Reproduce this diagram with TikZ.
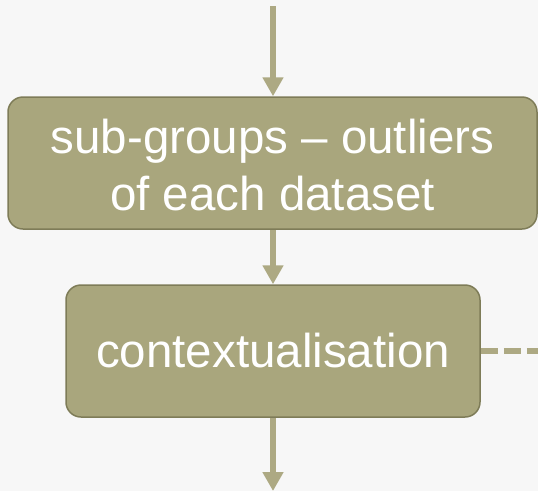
\documentclass[tikz,border=0pt]{standalone}
\usepackage{fontspec}
\setmainfont{Liberation Sans}
\usetikzlibrary{arrows.meta}
\definecolor{bg}{HTML}{F7F7F7}
\definecolor{boxfill}{HTML}{A9A67D}
\definecolor{boxedge}{HTML}{7E7C58}
\definecolor{flow}{HTML}{ADA983}
\begin{document}
\begin{tikzpicture}[x=1pt,y=-1pt,
  stepbox/.style={draw=boxedge, line width=1.5pt, fill=boxfill, rounded corners=15pt,
    text=white, align=center, inner sep=0pt,
    font=\fontsize{47.5}{57}\selectfont},
  flowarrow/.style={draw=flow, line width=6pt, -{Triangle[width=20pt,length=19pt]}},
  flowdash/.style={draw=flow, line width=5.5pt, dash pattern=on 17pt off 6pt}]
\fill[bg] (0,0) rectangle (538,491);
\useasboundingbox (0,0) rectangle (538,491);

% the strut on the first line sets the text a little lower in the box
\node[stepbox, minimum width=529pt, minimum height=132pt] (groups) at (272.5,163)
  {\rule{0pt}{39pt}sub-groups – outliers\\of each dataset};
\node[stepbox, minimum width=414pt, minimum height=132pt] (ctx) at (273,351)
  {contextualisation};

\coordinate (top) at (273,6);
\coordinate (bottom) at (273,491);
\coordinate (side) at (538,351);

\draw[flowarrow] (top) -- (groups.north -| top);
\draw[flowarrow] (groups.south -| ctx.north) -- (ctx.north);
\draw[flowarrow] (ctx.south) -- (bottom);
\draw[flowdash] (ctx.east) -- (side);
\end{tikzpicture}
\end{document}
